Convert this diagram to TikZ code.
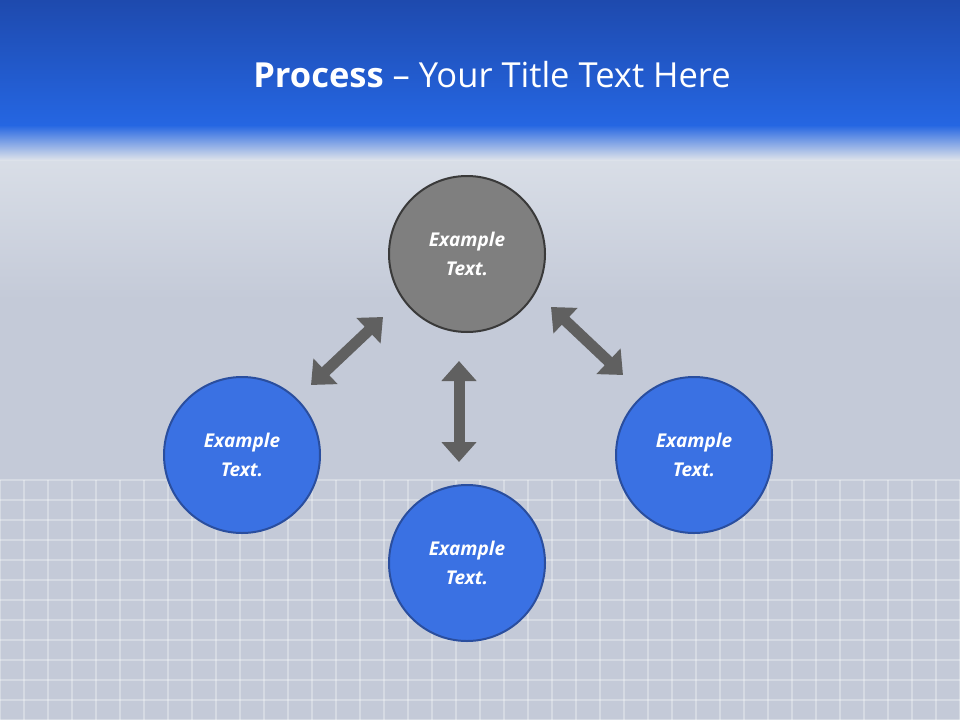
\documentclass[tikz,border=0pt]{standalone}
\usepackage{fontspec}
\setmainfont{Open Sans}
\usetikzlibrary{arrows.meta}
\definecolor{hdtop}{HTML}{1E4AAE}
\definecolor{hdbot}{HTML}{2566E2}
\definecolor{bg}{HTML}{C4CAD8}
\definecolor{bgl}{HTML}{DDE2EA}
\definecolor{cblue}{HTML}{3A71E3}
\definecolor{cbord}{HTML}{2A4E9E}
\definecolor{cgray}{HTML}{7F7F7F}
\definecolor{gbord}{HTML}{3A3A3A}
\definecolor{arr}{HTML}{606060}
\tikzset{
 circ/.style={circle,minimum size=156pt,line width=2pt,draw=cbord,fill=cblue,text=white,align=center,font=\fontsize{19}{29}\selectfont\bfseries\itshape},
 grayc/.style={circ,draw=gbord,fill=cgray},
 dbl/.style={draw=arr,line width=11pt,{Triangle[width=34pt,length=20pt]}-{Triangle[width=34pt,length=20pt]}}
}
\begin{document}
\begin{tikzpicture}[x=1pt,y=-1pt]
\useasboundingbox (0,0) rectangle (960,720);
\fill[bg] (0,0) rectangle (960,720);
\shade[top color=bgl,bottom color=bg] (0,130) rectangle (960,300);
\foreach \x in {0,24,...,960} \draw[white,opacity=0.3,line width=1.5pt] (\x,480) -- (\x,720);
\foreach \y in {480,500,...,720} \draw[white,opacity=0.3,line width=1.5pt] (0,\y) -- (960,\y);
\shade[top color=hdtop,bottom color=hdbot] (0,0) rectangle (960,125);
\shade[top color=hdbot,bottom color=bgl] (0,125) rectangle (960,160);
\node[text=white,font=\fontsize{34.5}{40}\selectfont] (title) at (492,75) {\textbf{Process} – Your Title Text Here};
\node[grayc] (top) at (467,254) {Example\\Text.};
\node[circ] (left) at (242,455) {Example\\Text.};
\node[circ] (bot) at (467,563) {Example\\Text.};
\node[circ] (right) at (694,455) {Example\\Text.};
\coordinate (l1) at (383,317); \coordinate (l2) at (311,385);
\coordinate (v1) at (459,361); \coordinate (v2) at (459,462);
\coordinate (r1) at (551,307); \coordinate (r2) at (623,375);
\draw[dbl] (l1) -- (l2);
\draw[dbl] (v1) -- (v2);
\draw[dbl] (r1) -- (r2);
\end{tikzpicture}
\end{document}
